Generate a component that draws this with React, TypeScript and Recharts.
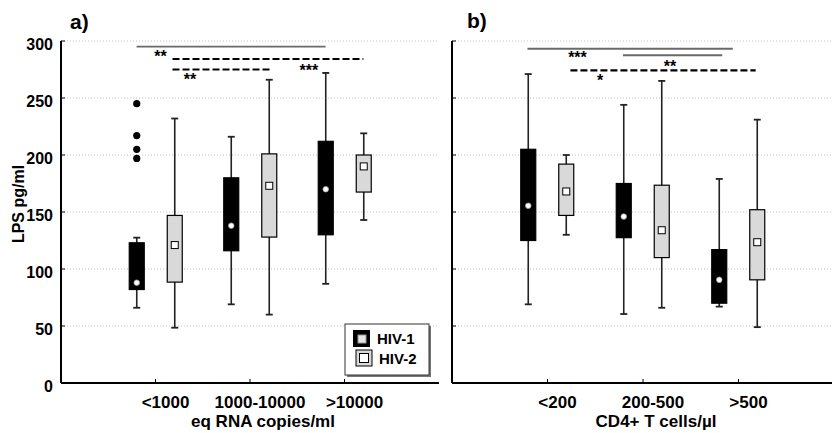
import { Bar, CartesianGrid, ComposedChart, ReferenceDot, ReferenceLine, XAxis, YAxis } from 'recharts'

const rnaGroups = ['<1000', '1000-10000', '>10000']
const cd4Groups = ['<200', '200-500', '>500']

// each box: [min, q1, median, q3, max]
const rnaHiv1 = [
  [66, 82, 88, 123, 127.5],
  [69, 116, 138, 180, 216],
  [87, 130, 170, 212, 272],
]
const rnaHiv2 = [
  [48.5, 88.5, 121, 147, 232],
  [60, 128, 173, 201, 266],
  [143, 167.5, 190, 200, 219],
]
const rnaHiv1Outliers = [[245, 217, 205, 197], [], []]

const cd4Hiv1 = [
  [69, 125, 155.5, 205, 271],
  [60.5, 127.5, 146, 175, 244],
  [67, 70, 90.5, 117, 179],
]
const cd4Hiv2 = [
  [130, 147, 168, 192, 200],
  [66, 110, 134, 173.5, 265],
  [49, 90.5, 123.5, 152, 231],
]

const yTicks = [0, 50, 100, 150, 200, 250, 300]

// significance bars, x in slot units (category i sits at i + 1)
const rnaBrackets = [
  { from: 0.8, to: 2.8, y: 295, dashed: false },
  { from: 1.18, to: 3.2, y: 284.2, dashed: true },
  { from: 1.18, to: 2.21, y: 275, dashed: true },
]
const rnaStars = [
  { x: 1.053, y: 281.6, text: '**' },
  { x: 2.624, y: 268.9, text: '***' },
  { x: 1.365, y: 261.4, text: '**' },
]
const cd4Brackets = [
  { from: 0.79, to: 2.94, y: 293.2, dashed: false },
  { from: 1.79, to: 2.83, y: 287.5, dashed: false },
  { from: 1.24, to: 3.18, y: 274.3, dashed: true },
]
const cd4Stars = [
  { x: 1.314, y: 280.7, text: '***' },
  { x: 2.283, y: 273.2, text: '**' },
  { x: 1.55, y: 260.1, text: '*' },
]

function buildRows(groups: string[], h1: number[][], h2: number[][], out1?: number[][]) {
  return groups.map((name, i) => ({
    name,
    slot: i + 1,
    h1: [h1[i][0], h1[i][4]],
    h2: [h2[i][0], h2[i][4]],
    s1: h1[i],
    s2: h2[i],
    o1: out1 ? out1[i] : [],
  }))
}

const rnaRows = buildRows(rnaGroups, rnaHiv1, rnaHiv2, rnaHiv1Outliers)
const cd4Rows = buildRows(cd4Groups, cd4Hiv1, cd4Hiv2)

const FONT = "'Liberation Sans', Arial, sans-serif"

function boxShape(dark: boolean) {
  return (props: any) => {
    const { x, y, width, height, payload } = props
    const s: number[] = dark ? payload.s1 : payload.s2
    const outliers: number[] = dark ? payload.o1 : []
    const top = Math.min(y, y + height)
    const bottom = Math.max(y, y + height)
    // bar spans min..max, so the other stats follow the same linear scale
    const px = (v: number) => bottom - ((v - s[0]) / (s[4] - s[0])) * (bottom - top)
    const cx = x + width / 2
    const q3 = px(s[3])
    const q1 = px(s[1])
    const med = px(s[2])
    return (
      <g>
        <line x1={cx} x2={cx} y1={px(s[4])} y2={px(s[0])} stroke="#222" strokeWidth={1.6} />
        <line x1={cx - 3.5} x2={cx + 3.5} y1={px(s[4])} y2={px(s[4])} stroke="#222" strokeWidth={1.8} />
        <line x1={cx - 3.5} x2={cx + 3.5} y1={px(s[0])} y2={px(s[0])} stroke="#222" strokeWidth={1.8} />
        <rect
          x={x}
          y={q3}
          width={width}
          height={q1 - q3}
          fill={dark ? '#000' : '#d9d9d9'}
          stroke="#000"
          strokeWidth={1.2}
        />
        {dark ? (
          <circle cx={cx} cy={med} r={2.8} fill="#fff" stroke="#999" strokeWidth={0.8} />
        ) : (
          <rect x={cx - 3.5} y={med - 3.5} width={7} height={7} fill="#fff" stroke="#000" strokeWidth={1} />
        )}
        {outliers.map((v, i) => (
          <circle key={i} cx={cx} cy={px(v)} r={3.6} fill="#000" />
        ))}
      </g>
    )
  }
}

const YTick = (props: any) => (
  <text x={props.x - 12} y={props.y + 8.5} textAnchor="end" fontSize={16} fontWeight="bold" fill="#000">
    {props.payload.value}
  </text>
)
const XTick = (props: any) => (
  <text x={props.x + 10} y={props.y + 28.5} textAnchor="middle" fontSize={17} fontWeight="bold" fill="#000">
    {props.payload.value}
  </text>
)
const NoTick = () => <g />

const StarLabel = (props: any) => {
  const vb = props.viewBox || {}
  return (
    <text
      x={vb.x + (vb.width || 0) / 2}
      y={vb.y + (vb.height || 0) / 2}
      textAnchor="middle"
      fontSize={16}
      fontWeight="bold"
      fill="#000"
    >
      {props.text}
    </text>
  )
}

type PanelProps = {
  rows: any[]
  brackets: { from: number; to: number; y: number; dashed: boolean }[]
  stars: { x: number; y: number; text: string }[]
  width: number
  marginRight: number
  yWidth: number
  pad: number
  xTitle: string
  yTitle?: string
}

function Panel({ rows, brackets, stars, width, marginRight, yWidth, pad, xTitle, yTitle }: PanelProps) {
  return (
    <ComposedChart
      width={width}
      height={433}
      data={rows}
      margin={{ top: 41, right: marginRight, bottom: 0, left: 0 }}
      barGap={23}
    >
      <CartesianGrid vertical={false} stroke="#c4c4c4" strokeDasharray="1 2" />
      <XAxis
        dataKey="name"
        type="category"
        scale="band"
        padding={{ left: pad, right: pad }}
        height={50}
        axisLine={{ stroke: '#000', strokeWidth: 2 }}
        tickLine={{ stroke: '#000' }}
        tickSize={-4}
        tickMargin={0}
        tick={XTick}
        interval={0}
        label={(p: any) => {
          const vb = p.viewBox
          return (
            <text x={vb.x + vb.width / 2 + 13} y={426.5} textAnchor="middle" fontSize={17} fontWeight="bold" fill="#000">
              {xTitle}
            </text>
          )
        }}
      />
      <XAxis
        xAxisId="top"
        orientation="top"
        dataKey="name"
        type="category"
        scale="band"
        padding={{ left: pad, right: pad }}
        height={0}
        axisLine={{ stroke: '#000', strokeWidth: 2 }}
        tickLine={{ stroke: '#000' }}
        tickSize={-4}
        tick={NoTick}
        interval={0}
      />
      <XAxis
        xAxisId="pos"
        dataKey="slot"
        type="number"
        scale="linear"
        domain={[0, 4]}
        allowDataOverflow
        hide
      />
      <YAxis
        type="number"
        domain={[0, 300]}
        ticks={yTicks}
        allowDataOverflow
        width={yWidth}
        axisLine={{ stroke: '#000', strokeWidth: 2 }}
        tickLine={{ stroke: '#000' }}
        tickSize={-4}
        tickMargin={0}
        tick={yTitle ? YTick : NoTick}
        interval={0}
        label={
          yTitle
            ? (p: any) => {
                const vb = p.viewBox
                const cy = vb.y + vb.height / 2 - 8
                return (
                  <text
                    x={18}
                    y={cy}
                    transform={`rotate(-90 18 ${cy})`}
                    textAnchor="middle"
                    dominantBaseline="central"
                    fontSize={16}
                    fontWeight="bold"
                    fill="#000"
                  >
                    {yTitle}
                  </text>
                )
              }
            : undefined
        }
      />
      <YAxis
        yAxisId="r"
        orientation="right"
        type="number"
        domain={[0, 300]}
        ticks={yTicks}
        allowDataOverflow
        width={0}
        axisLine={{ stroke: '#000', strokeWidth: 2 }}
        tickLine={{ stroke: '#000' }}
        tickSize={-4}
        tick={NoTick}
        interval={0}
      />
      <Bar dataKey="h1" barSize={15} shape={boxShape(true)} isAnimationActive={false} />
      <Bar dataKey="h2" barSize={15} shape={boxShape(false)} isAnimationActive={false} />
      {brackets.map((b, i) => (
        <ReferenceLine
          key={'b' + i}
          xAxisId="pos"
          segment={[
            { x: b.from, y: b.y },
            { x: b.to, y: b.y },
          ]}
          stroke={b.dashed ? '#000' : '#6a6a6a'}
          strokeWidth={b.dashed ? 2.2 : 1.8}
          strokeDasharray={b.dashed ? '7 3' : undefined}
          ifOverflow="visible"
        />
      ))}
      {stars.map((s, i) => (
        <ReferenceDot
          key={'s' + i}
          xAxisId="pos"
          x={s.x}
          y={s.y}
          r={0}
          fill="none"
          stroke="none"
          ifOverflow="visible"
          label={<StarLabel text={s.text} />}
        />
      ))}
    </ComposedChart>
  )
}

export default function App() {
  return (
    <div
      style={{
        position: 'absolute',
        left: 0,
        top: 0,
        width: 832,
        height: 433,
        overflow: 'hidden',
        background: '#fff',
        fontFamily: FONT,
      }}
    >
      <div style={{ position: 'absolute', left: 0, top: 0 }}>
        <Panel
          rows={rnaRows}
          brackets={rnaBrackets}
          stars={rnaStars}
          width={440}
          marginRight={1}
          yWidth={61}
          pad={47.25}
          xTitle="eq RNA copies/ml"
          yTitle="LPS pg/ml"
        />
      </div>
      <div style={{ position: 'absolute', left: 440, top: 0 }}>
        <Panel
          rows={cd4Rows}
          brackets={cd4Brackets}
          stars={cd4Stars}
          width={396}
          marginRight={2}
          yWidth={12}
          pad={47.75}
          xTitle="CD4+ T cells/µl"
        />
      </div>
      <svg
        width={832}
        height={433}
        style={{ position: 'absolute', left: 0, top: 0, pointerEvents: 'none' }}
        fontFamily={FONT}
      >
        <text x={70} y={29} fontSize={21} fontWeight="bold" fill="#000">
          a)
        </text>
        <text x={467} y={28} fontSize={21} fontWeight="bold" fill="#000">
          b)
        </text>
        <rect x={347} y={326} width={84} height={51} fill="#777" />
        <rect x={345} y={324} width={84} height={51} fill="#fff" stroke="#333" strokeWidth={1} />
        <rect x={353} y={330} width={17} height={17} fill="#000" />
        <rect x={358} y={335} width={8} height={8} fill="#e6e6e6" stroke="#999" strokeWidth={1} />
        <text x={377} y={344} fontSize={15} fontWeight="bold" fill="#000">
          HIV-1
        </text>
        <rect x={356} y={350} width={16} height={16} fill="#d9d9d9" stroke="#000" strokeWidth={1} />
        <rect x={359.5} y={353.5} width={9} height={9} fill="#fff" stroke="#000" strokeWidth={1} />
        <text x={379} y={364} fontSize={15} fontWeight="bold" fill="#000">
          HIV-2
        </text>
      </svg>
    </div>
  )
}
